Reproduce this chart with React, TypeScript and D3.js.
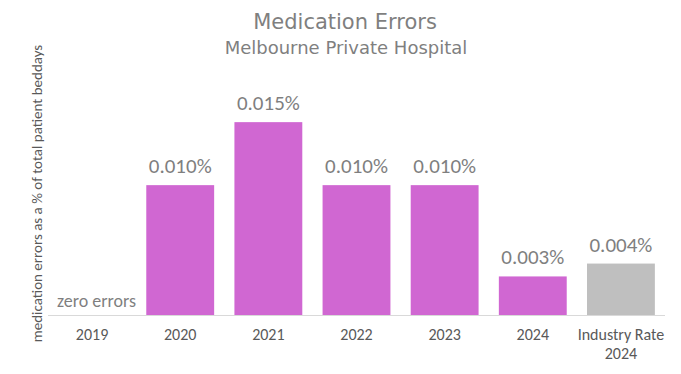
import React from "react";
import * as d3 from "d3";

const categories = ["2019", "2020", "2021", "2022", "2023", "2024", "Industry Rate|2024"];
const values = [0, 0.0101, 0.015, 0.0101, 0.0101, 0.003, 0.004];
const labels = ["", "0.010%", "0.015%", "0.010%", "0.010%", "0.003%", "0.004%"];
const barColors = ["#D067D2", "#D067D2", "#D067D2", "#D067D2", "#D067D2", "#D067D2", "#BFBFBF"];

const W = 681;
const H = 374;
const margin = { top: 108, right: 16, bottom: 59, left: 48 };
const font = "Calibri, Carlito, 'Open Sans', 'Liberation Sans', sans-serif";

export default function App() {
  const x = d3
    .scaleBand()
    .domain(categories)
    .range([margin.left, W - margin.right])
    .paddingInner(0.23)
    .paddingOuter(0.115);

  const y = d3
    .scaleLinear()
    .domain([0, 0.0161])
    .range([H - margin.bottom, margin.top]);

  const base = y(0);

  return (
    <svg
      width={W}
      height={H}
      style={{ position: "absolute", left: 0, top: 0, background: "#fff" }}
    >
      <text x={345} y={29} textAnchor="middle" fontFamily="'Century Gothic', 'URW Gothic', 'DejaVu Sans', sans-serif" fontSize={21} fill="#7f7f7f">
        Medication Errors
      </text>
      <text x={346} y={54} textAnchor="middle" fontFamily="'Century Gothic', 'URW Gothic', 'DejaVu Sans', sans-serif" fontSize={18} fill="#7f7f7f">
        Melbourne Private Hospital
      </text>

      <text
        transform={`translate(42,${(45 + 342) / 2}) rotate(-90)`}
        textAnchor="middle"
        fontFamily={font}
        fontSize={15}
        fill="#595959"
      >
        medication errors as a % of total patient beddays
      </text>

      {categories.map((c, i) => (
        <rect
          key={c}
          x={x(c)}
          y={y(values[i])}
          width={x.bandwidth()}
          height={base - y(values[i])}
          fill={barColors[i]}
        />
      ))}

      {categories.map((c, i) =>
        labels[i] ? (
          <text
            key={"l" + c}
            x={(x(c) ?? 0) + x.bandwidth() / 2}
            y={y(values[i]) - 12}
            textAnchor="middle"
            fontFamily={font}
            fontSize={21}
            fill="#7f7f7f"
          >
            {labels[i]}
          </text>
        ) : null
      )}

      <text x={57} y={307} fontFamily={font} fontSize={18} fill="#7f7f7f">
        zero errors
      </text>

      <line x1={margin.left} x2={W - margin.right} y1={base + 0.5} y2={base + 0.5} stroke="#d9d9d9" strokeWidth={1} />

      {categories.map((c) =>
        c.split("|").map((part, j) => (
          <text
            key={c + j}
            x={(x(c) ?? 0) + x.bandwidth() / 2}
            y={base + 25 + j * 19}
            textAnchor="middle"
            fontFamily={font}
            fontSize={16}
            fill="#595959"
          >
            {part}
          </text>
        ))
      )}
    </svg>
  );
}
